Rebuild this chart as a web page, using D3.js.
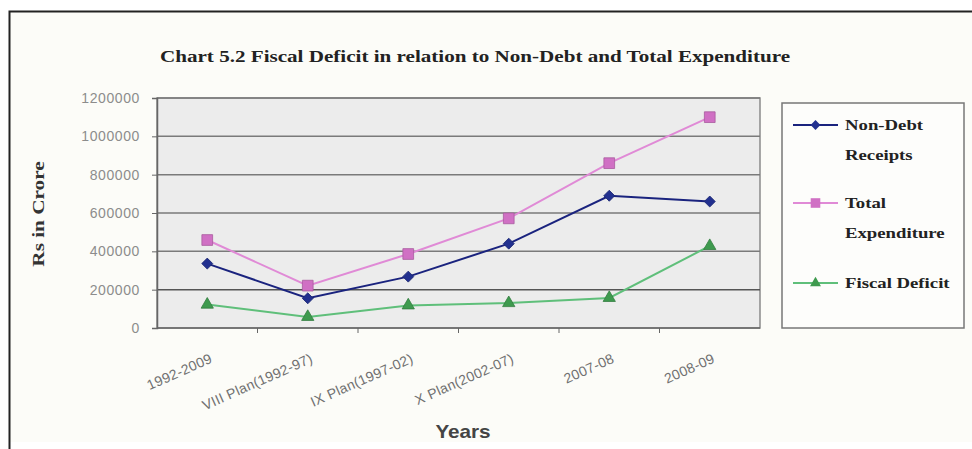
<!DOCTYPE html>
<html>
<head>
<meta charset="utf-8">
<script src="https://cdn.jsdelivr.net/npm/d3@7"></script>
<style>
  body { margin: 0; background: #fff; }
  svg { display: block; }
</style>
</head>
<body>
<div id="chart"></div>
<script>
// Data
const categories = ["1992-2009", "VIII Plan(1992-97)", "IX Plan(1997-02)", "X Plan(2002-07)", "2007-08", "2008-09"];
const nonDebt = [336000, 155000, 268000, 440000, 690000, 660000];
const totalExp = [459000, 221000, 386000, 572000, 860000, 1100000];
const fiscalDeficit = [122000, 58000, 118000, 130000, 157000, 428000];
const yTicks = [0, 200000, 400000, 600000, 800000, 1000000, 1200000];

const series = [
  { name: ["Non-Debt", "Receipts"], values: nonDebt, line: "#1a237e", fill: "#22308f", shape: "diamond" },
  { name: ["Total", "Expenditure"], values: totalExp, line: "#e08ad6", fill: "#d070c4", shape: "square" },
  { name: ["Fiscal Deficit"], values: fiscalDeficit, line: "#5fbf7a", fill: "#3e9a4e", shape: "triangle" },
];

// Marker shapes
const marker = (shape, k) => {
  if (shape === "diamond") return { d: d3.symbol().type(d3.symbolSquare).size(60 * k)(), rot: 45 };
  if (shape === "square") return { d: d3.symbol().type(d3.symbolSquare).size(115 * k)(), rot: 0 };
  return { d: d3.symbol().type(d3.symbolTriangle).size(65 * k)(), rot: 0 };
};

// Dimensions
const width = 972, height = 449;
const plot = { left: 157, top: 98, right: 760, bottom: 328 };

const svg = d3.select("#chart").append("svg")
  .attr("width", width).attr("height", height);

// Frame
svg.append("rect").attr("x", 9).attr("y", 11).attr("width", width).attr("height", 431)
  .attr("fill", "#fcfcf8");
svg.append("path").attr("d", `M9.5,${height} V11.5 H${width}`)
  .attr("fill", "none").attr("stroke", "#222").attr("stroke-width", 2);

// Title
svg.append("text")
  .attr("x", 475).attr("y", 62)
  .attr("text-anchor", "middle")
  .attr("font-family", "Liberation Serif, Times New Roman, serif")
  .attr("font-weight", "bold").attr("font-size", 17)
  .attr("fill", "#222")
  .attr("textLength", 630).attr("lengthAdjust", "spacingAndGlyphs")
  .text("Chart 5.2 Fiscal Deficit in relation to Non-Debt and Total Expenditure");

// Scales
const xScale = d3.scaleBand().domain(categories).range([plot.left, plot.right]);
const yScale = d3.scaleLinear().domain([0, 1200000]).range([plot.bottom, plot.top]);

// Plot background
svg.append("rect")
  .attr("x", plot.left).attr("y", plot.top)
  .attr("width", plot.right - plot.left).attr("height", plot.bottom - plot.top)
  .attr("fill", "#ececec").attr("stroke", "#8a8a8a").attr("stroke-width", 1.5);

// Gridlines
svg.append("g").selectAll("line").data(yTicks.filter(d => d > 0)).join("line")
  .attr("x1", plot.left).attr("x2", plot.right)
  .attr("y1", d => yScale(d)).attr("y2", d => yScale(d))
  .attr("stroke", d => d === 200000 ? "#555" : "#7a7a7a").attr("stroke-width", 1.5);

// Y axis
const yAxis = d3.axisLeft(yScale).tickValues(yTicks).tickSize(5).tickPadding(12).tickFormat(d3.format("d"));
const yAxisGroup = svg.append("g").attr("transform", `translate(${plot.left},0)`).call(yAxis);
yAxisGroup.select(".domain").attr("stroke", "#666").attr("stroke-width", 1.5);
yAxisGroup.selectAll(".tick line").attr("stroke", "#666");
yAxisGroup.selectAll(".tick text")
  .attr("font-family", "Liberation Sans, Arial, sans-serif").attr("font-size", 14)
  .attr("letter-spacing", 0.6).attr("fill", "#8c8c8c");

// X axis
const cx = (c) => xScale(c) + xScale.bandwidth() / 2;
const xAxisGroup = svg.append("g").attr("transform", `translate(0,${plot.bottom})`);
xAxisGroup.append("line").attr("x1", plot.left).attr("x2", plot.right)
  .attr("stroke", "#666").attr("stroke-width", 1.5);
xAxisGroup.selectAll("line.tk").data(categories.slice(1)).join("line").attr("class", "tk")
  .attr("x1", d => xScale(d)).attr("x2", d => xScale(d))
  .attr("y1", 0).attr("y2", 5).attr("stroke", "#666");
xAxisGroup.selectAll("text").data(categories).join("text")
  .attr("transform", d => `translate(${cx(d) + 6},34) rotate(-24)`)
  .attr("text-anchor", "end")
  .attr("font-family", "Liberation Sans, Arial, sans-serif").attr("font-size", 14)
  .attr("letter-spacing", 0.3).attr("fill", "#707070")
  .text(d => d);

// Axis titles
svg.append("text")
  .attr("transform", `translate(44,214) rotate(-90) scale(1.25,1)`)
  .attr("text-anchor", "middle")
  .attr("font-family", "Liberation Serif, Times New Roman, serif")
  .attr("font-weight", "bold").attr("font-size", 17).attr("fill", "#333")
  .text("Rs in Crore");

svg.append("text")
  .attr("transform", `translate(463,438) scale(1.15,1)`)
  .attr("text-anchor", "middle")
  .attr("font-family", "Liberation Sans, Arial, sans-serif")
  .attr("font-weight", "bold").attr("font-size", 18).attr("fill", "#444")
  .text("Years");

// Lines and markers
const lineGen = d3.line().x((d, i) => cx(categories[i])).y(d => yScale(d));

series.forEach(s => {
  svg.append("path").datum(s.values)
    .attr("d", lineGen)
    .attr("fill", "none").attr("stroke", s.line).attr("stroke-width", 2);
  const m = marker(s.shape, 1);
  svg.append("g").selectAll("path").data(s.values).join("path")
    .attr("d", m.d)
    .attr("transform", (d, i) => `translate(${cx(categories[i])},${yScale(d)}) rotate(${m.rot})`)
    .attr("fill", s.fill).attr("stroke", d3.color(s.fill).darker(0.6)).attr("stroke-width", 0.8);
});

// Legend
const legend = svg.append("g");
legend.append("rect")
  .attr("x", 782).attr("y", 103).attr("width", 182).attr("height", 225)
  .attr("fill", "#fdfdfb").attr("stroke", "#777").attr("stroke-width", 1.5);

const legendY = [125, 203, 283];
series.forEach((s, i) => {
  const g = legend.append("g").attr("transform", `translate(0,${legendY[i]})`);
  g.append("line").attr("x1", 793).attr("x2", 838).attr("y1", 0).attr("y2", 0)
    .attr("stroke", s.line).attr("stroke-width", 2);
  const m = marker(s.shape, 0.8);
  g.append("path")
    .attr("d", m.d)
    .attr("transform", `translate(815.5,0) rotate(${m.rot})`)
    .attr("fill", s.fill);
  s.name.forEach((t, j) => {
    g.append("text")
      .attr("transform", `translate(845,${5 + j * 30}) scale(1.25,1)`)
      .attr("font-family", "Liberation Serif, Times New Roman, serif")
      .attr("font-weight", "bold").attr("font-size", 15).attr("fill", "#222")
      .text(t);
  });
});
</script>
</body>
</html>
